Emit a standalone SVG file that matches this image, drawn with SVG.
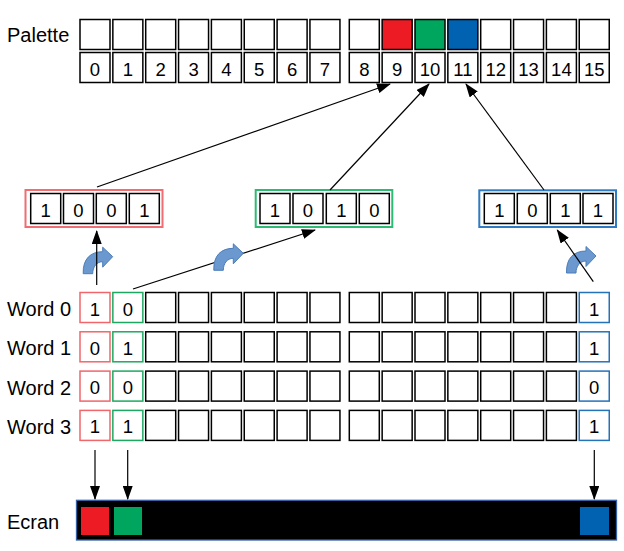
<svg xmlns="http://www.w3.org/2000/svg" width="624" height="551" viewBox="0 0 624 551">
<style>
text{font-family:"Liberation Sans",Arial,sans-serif;fill:#000}
.lbl{font-size:20px}
.d{font-size:18.5px;text-anchor:middle}
.c{fill:#fff;stroke:#000;stroke-width:1.5}
.cr{fill:#fff;stroke:#F0666B;stroke-width:1.5}
.cg{fill:#fff;stroke:#1DA862;stroke-width:1.5}
.cb{fill:#fff;stroke:#2472B8;stroke-width:1.5}
.gr{fill:#fff;stroke:#F26D72;stroke-width:2}
.gg{fill:#fff;stroke:#2DBA72;stroke-width:2}
.gb{fill:#fff;stroke:#2E7BC4;stroke-width:2}
.ln{stroke:#000;stroke-width:1.2;fill:none;marker-end:url(#ah)}
.ca{fill:#6A98CF;stroke:#4D7DB8;stroke-width:1}
</style>
<defs>
<marker id="ah" viewBox="0 0 14 10" refX="13" refY="5" markerWidth="14" markerHeight="10" markerUnits="userSpaceOnUse" orient="auto">
<path d="M0 0 L14 5 L0 10 Z" fill="#000"/>
</marker>
<path id="curve" d="M0 0 L-10 -9.5 L-10 -5 C-22 -5 -30 2 -29.5 17 L-20 17 C-20 10 -16 5 -10 5 L-10 10.5 Z"/>
</defs>

<g id="palette">
<text class="lbl" x="7" y="42">Palette</text>
<g id="palette-colors">
<rect class="c" x="80" y="19.5" width="30" height="30"/>
<rect class="c" x="112.85" y="19.5" width="30" height="30"/>
<rect class="c" x="145.7" y="19.5" width="30" height="30"/>
<rect class="c" x="178.55" y="19.5" width="30" height="30"/>
<rect class="c" x="211.4" y="19.5" width="30" height="30"/>
<rect class="c" x="244.25" y="19.5" width="30" height="30"/>
<rect class="c" x="277.1" y="19.5" width="30" height="30"/>
<rect class="c" x="309.95" y="19.5" width="30" height="30"/>
<rect class="c" x="349.3" y="19.5" width="30" height="30"/>
<rect x="382.15" y="19.5" width="30" height="30" fill="#ED1C24" stroke="#000" stroke-width="1.5"/>
<rect x="415" y="19.5" width="30" height="30" fill="#00A65D" stroke="#000" stroke-width="1.5"/>
<rect x="447.85" y="19.5" width="30" height="30" fill="#0062B1" stroke="#000" stroke-width="1.5"/>
<rect class="c" x="480.7" y="19.5" width="30" height="30"/>
<rect class="c" x="513.55" y="19.5" width="30" height="30"/>
<rect class="c" x="546.4" y="19.5" width="30" height="30"/>
<rect class="c" x="579.25" y="19.5" width="30" height="30"/>
</g>
<g id="palette-index">
<rect class="c" x="80" y="52.5" width="30" height="30"/><text class="d" x="95" y="75.5">0</text>
<rect class="c" x="112.85" y="52.5" width="30" height="30"/><text class="d" x="127.85" y="75.5">1</text>
<rect class="c" x="145.7" y="52.5" width="30" height="30"/><text class="d" x="160.7" y="75.5">2</text>
<rect class="c" x="178.55" y="52.5" width="30" height="30"/><text class="d" x="193.55" y="75.5">3</text>
<rect class="c" x="211.4" y="52.5" width="30" height="30"/><text class="d" x="226.4" y="75.5">4</text>
<rect class="c" x="244.25" y="52.5" width="30" height="30"/><text class="d" x="259.25" y="75.5">5</text>
<rect class="c" x="277.1" y="52.5" width="30" height="30"/><text class="d" x="292.1" y="75.5">6</text>
<rect class="c" x="309.95" y="52.5" width="30" height="30"/><text class="d" x="324.95" y="75.5">7</text>
<rect class="c" x="349.3" y="52.5" width="30" height="30"/><text class="d" x="364.3" y="75.5">8</text>
<rect class="c" x="382.15" y="52.5" width="30" height="30"/><text class="d" x="397.15" y="75.5">9</text>
<rect class="c" x="415" y="52.5" width="30" height="30"/><text class="d" x="430" y="75.5">10</text>
<rect class="c" x="447.85" y="52.5" width="30" height="30"/><text class="d" x="462.85" y="75.5">11</text>
<rect class="c" x="480.7" y="52.5" width="30" height="30"/><text class="d" x="495.7" y="75.5">12</text>
<rect class="c" x="513.55" y="52.5" width="30" height="30"/><text class="d" x="528.55" y="75.5">13</text>
<rect class="c" x="546.4" y="52.5" width="30" height="30"/><text class="d" x="561.4" y="75.5">14</text>
<rect class="c" x="579.25" y="52.5" width="30" height="30"/><text class="d" x="594.25" y="75.5">15</text>
</g>
</g>

<g id="group-red">
<rect class="gr" x="25.5" y="190" width="137" height="37"/>
<rect class="c" x="30.7" y="193.5" width="30" height="30"/><text class="d" x="45.7" y="217">1</text>
<rect class="c" x="63.5" y="193.5" width="30" height="30"/><text class="d" x="78.5" y="217">0</text>
<rect class="c" x="96.3" y="193.5" width="30" height="30"/><text class="d" x="111.3" y="217">0</text>
<rect class="c" x="129.3" y="193.5" width="30" height="30"/><text class="d" x="144.3" y="217">1</text>
</g>
<g id="group-green">
<rect class="gg" x="255.7" y="190" width="136.6" height="37"/>
<rect class="c" x="260" y="193.5" width="30" height="30"/><text class="d" x="275" y="217">1</text>
<rect class="c" x="293" y="193.5" width="30" height="30"/><text class="d" x="308" y="217">0</text>
<rect class="c" x="326.3" y="193.5" width="30" height="30"/><text class="d" x="341.3" y="217">1</text>
<rect class="c" x="359.3" y="193.5" width="30" height="30"/><text class="d" x="374.3" y="217">0</text>
</g>
<g id="group-blue">
<rect class="gb" x="479.3" y="190.3" width="136.7" height="36.7"/>
<rect class="c" x="484.3" y="193.5" width="30" height="30"/><text class="d" x="499.3" y="217">1</text>
<rect class="c" x="517.3" y="193.5" width="30" height="30"/><text class="d" x="532.3" y="217">0</text>
<rect class="c" x="550.3" y="193.5" width="30" height="30"/><text class="d" x="565.3" y="217">1</text>
<rect class="c" x="583" y="193.5" width="30" height="30"/><text class="d" x="598" y="217">1</text>
</g>

<g id="word0">
<text class="lbl" x="7" y="316">Word 0</text>
<rect class="cr" x="80" y="292.5" width="30" height="30"/><text class="d" x="95" y="315.5">1</text>
<rect class="cg" x="112.85" y="292.5" width="30" height="30"/><text class="d" x="127.85" y="315.5">0</text>
<rect class="c" x="145.7" y="292.5" width="30" height="30"/>
<rect class="c" x="178.55" y="292.5" width="30" height="30"/>
<rect class="c" x="211.4" y="292.5" width="30" height="30"/>
<rect class="c" x="244.25" y="292.5" width="30" height="30"/>
<rect class="c" x="277.1" y="292.5" width="30" height="30"/>
<rect class="c" x="309.95" y="292.5" width="30" height="30"/>
<rect class="c" x="349.3" y="292.5" width="30" height="30"/>
<rect class="c" x="382.15" y="292.5" width="30" height="30"/>
<rect class="c" x="415" y="292.5" width="30" height="30"/>
<rect class="c" x="447.85" y="292.5" width="30" height="30"/>
<rect class="c" x="480.7" y="292.5" width="30" height="30"/>
<rect class="c" x="513.55" y="292.5" width="30" height="30"/>
<rect class="c" x="546.4" y="292.5" width="30" height="30"/>
<rect class="cb" x="579.25" y="292.5" width="30" height="30"/><text class="d" x="594.25" y="315.5">1</text>
</g>
<g id="word1">
<text class="lbl" x="7" y="355.3">Word 1</text>
<rect class="cr" x="80" y="331.8" width="30" height="30"/><text class="d" x="95" y="354.8">0</text>
<rect class="cg" x="112.85" y="331.8" width="30" height="30"/><text class="d" x="127.85" y="354.8">1</text>
<rect class="c" x="145.7" y="331.8" width="30" height="30"/>
<rect class="c" x="178.55" y="331.8" width="30" height="30"/>
<rect class="c" x="211.4" y="331.8" width="30" height="30"/>
<rect class="c" x="244.25" y="331.8" width="30" height="30"/>
<rect class="c" x="277.1" y="331.8" width="30" height="30"/>
<rect class="c" x="309.95" y="331.8" width="30" height="30"/>
<rect class="c" x="349.3" y="331.8" width="30" height="30"/>
<rect class="c" x="382.15" y="331.8" width="30" height="30"/>
<rect class="c" x="415" y="331.8" width="30" height="30"/>
<rect class="c" x="447.85" y="331.8" width="30" height="30"/>
<rect class="c" x="480.7" y="331.8" width="30" height="30"/>
<rect class="c" x="513.55" y="331.8" width="30" height="30"/>
<rect class="c" x="546.4" y="331.8" width="30" height="30"/>
<rect class="cb" x="579.25" y="331.8" width="30" height="30"/><text class="d" x="594.25" y="354.8">1</text>
</g>
<g id="word2">
<text class="lbl" x="7" y="394.6">Word 2</text>
<rect class="cr" x="80" y="371.1" width="30" height="30"/><text class="d" x="95" y="394.1">0</text>
<rect class="cg" x="112.85" y="371.1" width="30" height="30"/><text class="d" x="127.85" y="394.1">0</text>
<rect class="c" x="145.7" y="371.1" width="30" height="30"/>
<rect class="c" x="178.55" y="371.1" width="30" height="30"/>
<rect class="c" x="211.4" y="371.1" width="30" height="30"/>
<rect class="c" x="244.25" y="371.1" width="30" height="30"/>
<rect class="c" x="277.1" y="371.1" width="30" height="30"/>
<rect class="c" x="309.95" y="371.1" width="30" height="30"/>
<rect class="c" x="349.3" y="371.1" width="30" height="30"/>
<rect class="c" x="382.15" y="371.1" width="30" height="30"/>
<rect class="c" x="415" y="371.1" width="30" height="30"/>
<rect class="c" x="447.85" y="371.1" width="30" height="30"/>
<rect class="c" x="480.7" y="371.1" width="30" height="30"/>
<rect class="c" x="513.55" y="371.1" width="30" height="30"/>
<rect class="c" x="546.4" y="371.1" width="30" height="30"/>
<rect class="cb" x="579.25" y="371.1" width="30" height="30"/><text class="d" x="594.25" y="394.1">0</text>
</g>
<g id="word3">
<text class="lbl" x="7" y="433.6">Word 3</text>
<rect class="cr" x="80" y="410.4" width="30" height="30"/><text class="d" x="95" y="433.4">1</text>
<rect class="cg" x="112.85" y="410.4" width="30" height="30"/><text class="d" x="127.85" y="433.4">1</text>
<rect class="c" x="145.7" y="410.4" width="30" height="30"/>
<rect class="c" x="178.55" y="410.4" width="30" height="30"/>
<rect class="c" x="211.4" y="410.4" width="30" height="30"/>
<rect class="c" x="244.25" y="410.4" width="30" height="30"/>
<rect class="c" x="277.1" y="410.4" width="30" height="30"/>
<rect class="c" x="309.95" y="410.4" width="30" height="30"/>
<rect class="c" x="349.3" y="410.4" width="30" height="30"/>
<rect class="c" x="382.15" y="410.4" width="30" height="30"/>
<rect class="c" x="415" y="410.4" width="30" height="30"/>
<rect class="c" x="447.85" y="410.4" width="30" height="30"/>
<rect class="c" x="480.7" y="410.4" width="30" height="30"/>
<rect class="c" x="513.55" y="410.4" width="30" height="30"/>
<rect class="c" x="546.4" y="410.4" width="30" height="30"/>
<rect class="cb" x="579.25" y="410.4" width="30" height="30"/><text class="d" x="594.25" y="433.4">1</text>
</g>

<g id="ecran">
<text class="lbl" x="7" y="529">Ecran</text>
<rect x="76.5" y="500.3" width="540" height="39.7" fill="#000" stroke="#3563A8" stroke-width="1.3"/>
<rect x="81" y="507" width="28" height="28" fill="#ED1C24"/>
<rect x="114" y="507" width="28" height="28" fill="#00A65D"/>
<rect x="580" y="507" width="29" height="28" fill="#0062B1"/>
</g>

<g id="rotations">
<use href="#curve" class="ca" transform="translate(112.7 256.7)"/>
<use href="#curve" class="ca" transform="translate(596 256)"/>
</g>

<g id="connectors">
<line class="ln" x1="97" y1="187" x2="390" y2="84"/>
<line class="ln" x1="330" y1="190" x2="429" y2="84"/>
<line class="ln" x1="544" y1="190" x2="466" y2="84"/>
<line class="ln" x1="96.7" y1="285" x2="96.7" y2="231"/>
<line class="ln" x1="133" y1="289" x2="315" y2="230"/>
<line class="ln" x1="593.3" y1="281.7" x2="557.3" y2="230"/>
<line class="ln" x1="95" y1="450" x2="95" y2="499"/>
<line class="ln" x1="127.7" y1="450" x2="127.7" y2="499"/>
<line class="ln" x1="594.3" y1="450" x2="594.3" y2="499"/>
</g>

<g id="rotation-mid">
<use href="#curve" class="ca" transform="translate(243.3 253.3)"/>
</g>
</svg>
